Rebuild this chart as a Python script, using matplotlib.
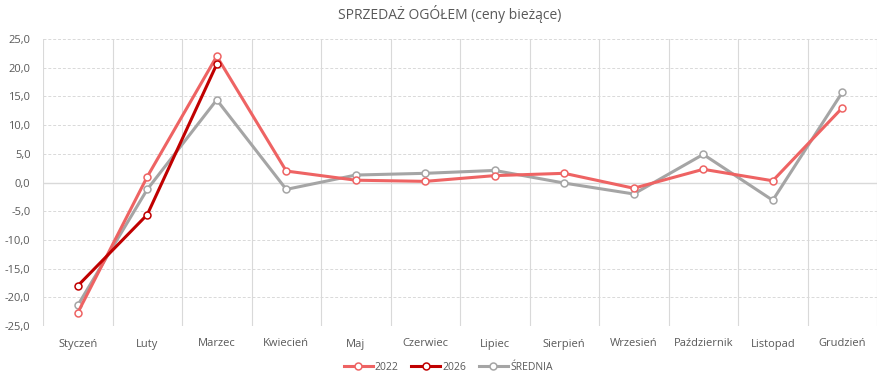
import numpy as np
import matplotlib
matplotlib.use("Agg")
import matplotlib.pyplot as plt
from matplotlib.ticker import FuncFormatter

# ========== DATA ==========
months = ['Styczeń', 'Luty', 'Marzec', 'Kwiecień', 'Maj', 'Czerwiec', 'Lipiec',
          'Sierpień', 'Wrzesień', 'Październik', 'Listopad', 'Grudzień']
s2022 = [-22.7, 1.0, 22.0, 2.0, 0.4, 0.2, 1.2, 1.6, -1.0, 2.3, 0.3, 13.0]
s2026 = [-18.0, -5.6, 20.6]
srednia = [-21.4, -1.2, 14.4, -1.2, 1.3, 1.6, 2.1, -0.1, -2.0, 4.9, -3.1, 15.7]
y_ticks = np.arange(-25, 26, 5)

# ========== STYLE ==========
plt.rcParams['font.family'] = ['Open Sans', 'DejaVu Sans']
TXT = '#595959'
GRID = '#d9d9d9'

fig = plt.figure(figsize=(8.82, 3.88), dpi=100)
ax = fig.add_axes([43 / 882, 1 - 326 / 388, 834 / 882, 287 / 388])

x = np.arange(len(months))
marker_kw = dict(marker='o', markersize=5, markerfacecolor='white', markeredgewidth=1.1)

ax.plot(x, s2022, color='#ee6363', lw=2.2, label='2022', markeredgecolor='#ee6363', zorder=3, **marker_kw)
ax.plot(x[:len(s2026)], s2026, color='#c00000', lw=2.2, label='2026', markeredgecolor='#c00000', zorder=4, **marker_kw)
ax.plot(x, srednia, color='#a5a5a5', lw=2.2, label='ŚREDNIA', markeredgecolor='#a5a5a5', zorder=2, **marker_kw)

ax.set_xlim(-0.5, len(months) - 0.5)
ax.set_ylim(-25, 25)
ax.set_yticks(y_ticks)
ax.yaxis.set_major_formatter(FuncFormatter(lambda v, p: f'{v:.1f}'.replace('.', ',')))
ax.set_xticks(x)
ax.set_xticklabels(months)

# gridlines: dashed horizontal, solid vertical at category borders
for v in y_ticks:
    if v == 0:
        ax.axhline(v, color=GRID, lw=1.0, zorder=1)
    else:
        ax.axhline(v, color=GRID, lw=0.7, ls=(0, (3, 2)), zorder=1)
for b in np.arange(-0.5, len(months), 1):
    ax.axvline(b, color=GRID, lw=0.8, zorder=1)

for s in ax.spines.values():
    s.set_visible(False)
ax.tick_params(length=0, colors=TXT, labelsize=8)
ax.tick_params(axis='x', pad=9)
ax.tick_params(axis='y', pad=9)

fig.text(450 / 882, 1 - 14 / 388, 'SPRZEDAŻ OGÓŁEM (ceny bieżące)', ha='center', va='center',
         fontsize=10, color=TXT)

ax.legend(loc='center', bbox_to_anchor=(448 / 882, 1 - 367 / 388), bbox_transform=fig.transFigure,
          ncol=3, frameon=False, fontsize=7.5, labelcolor=TXT, handlelength=2.8,
          columnspacing=1.2, handletextpad=0.2)

fig.savefig('out.png', dpi=100)
